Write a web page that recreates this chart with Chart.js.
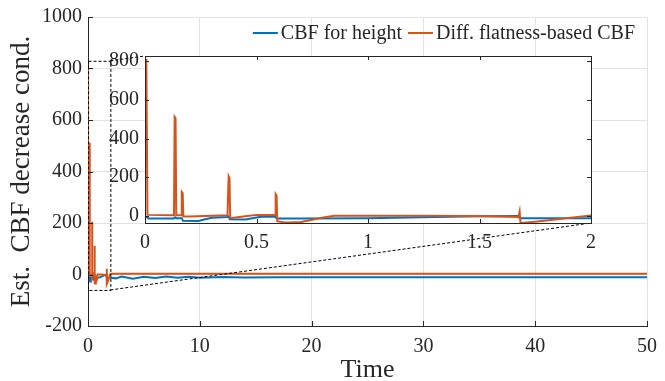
<!DOCTYPE html>
<html lang="en">
<head>
<meta charset="UTF-8">
<title>Est. CBF decrease cond.</title>
<script src="https://cdn.jsdelivr.net/npm/chart.js"></script>
<style>
  html, body { margin: 0; padding: 0; background: #fff; }
  #wrap { position: relative; width: 665px; height: 381px; }
  #mainChart { position: absolute; left: 0; top: 0; }
  #insetChart { position: absolute; left: 95px; top: 45px; }
</style>
</head>
<body>
<div id="wrap">
  <canvas id="mainChart" width="665" height="381"></canvas>
  <canvas id="insetChart" width="510" height="215"></canvas>
</div>
<script>
// CBF for height (blue)
const heightTime = [0, 0.01, 0.015, 0.13, 0.135, 0.14, 0.165, 0.17, 0.24, 0.27, 0.3, 0.37, 0.375, 0.38, 0.45, 0.5, 0.52, 0.585,
  0.59, 0.7, 1.0, 1.3, 1.5, 1.675, 1.68, 2.0, 2.5, 3, 4, 5, 6, 7, 8, 9, 10, 12, 14, 17, 50];
const heightVal = [-5, -8, -14, -14, -8, -12, -12, -26, -27, -18, -10, -6, -3, -18, -19, -9, -5, -4,
  -14, -14, -12, -6, -2, -1, -13, -13, -15, -8, -16, -9, -14, -8, -13, -9, -13, -10, -12, -11, -11];

// Diff. flatness-based CBF (orange)
const flatTime = [0, 0.006, 0.011, 0.13, 0.133, 0.137, 0.14, 0.162, 0.165, 0.169, 0.172, 0.2, 0.37, 0.372, 0.375, 0.379, 0.382,
  0.45, 0.5, 0.583, 0.586, 0.59, 0.593, 0.62, 0.65, 0.7, 0.75, 0.8, 0.85, 1.2, 1.45, 1.6, 1.675, 1.68, 1.684,
  1.75, 1.85, 1.95, 2.0, 2.05, 50];
const flatVal = [800, 805, 5, 3, 512, 505, 3, 3, 124, 118, -3, -4, 3, 3, 205, 195, -12,
  -2, 5, 5, 112, 105, -28, -33, -35, -32, -20, -8, 0, 0, -1, -4, -6, 22, -37,
  -30, -17, -4, 2, 3, 3];

const seriesNames = ['CBF for height', 'Diff. flatness-based CBF'];
const mainXTicks = [0, 10, 20, 30, 40, 50];
const mainYTicks = [-200, 0, 200, 400, 600, 800, 1000];
const insetXTicks = [0, 0.5, 1, 1.5, 2];
const insetYTicks = [0, 200, 400, 600, 800];
const insetYRange = [-37, 827];
const zoomTime = [0, 2];
const zoomVal = [-60, 830];

const BLUE = '#0072BD';
const ORANGE = '#D95319';
const AXIS = '#262626';
const GRID = '#e3e3e3';
const FONT = '"Liberation Serif", "DejaVu Serif", serif';

function toPoints(t, v) {
  return t.map((x, i) => ({ x: x, y: v[i] }));
}

function makeDatasets(width) {
  return [
    { label: seriesNames[0], data: toPoints(heightTime, heightVal), borderColor: BLUE, borderWidth: width,
      pointRadius: 0, tension: 0, order: 2 },
    { label: seriesNames[1], data: toPoints(flatTime, flatVal), borderColor: ORANGE, borderWidth: width,
      pointRadius: 0, tension: 0, order: 1 }
  ];
}

function fixedTicks(list) {
  return function(scale) { scale.ticks = list.map(v => ({ value: v })); };
}
const plainLabel = v => String(v);

// MATLAB style ticks pointing into the plot
function drawInnerTicks(chart, xs, ys, len, allSides) {
  const { ctx, chartArea: a, scales } = chart;
  ctx.save();
  ctx.strokeStyle = AXIS;
  ctx.lineWidth = 1;
  ctx.beginPath();
  xs.forEach(v => {
    const px = Math.round(scales.x.getPixelForValue(v)) + 0.5;
    ctx.moveTo(px, a.bottom); ctx.lineTo(px, a.bottom - len);
    if (allSides) { ctx.moveTo(px, a.top); ctx.lineTo(px, a.top + len); }
  });
  ys.forEach(v => {
    const py = Math.round(scales.y.getPixelForValue(v)) + 0.5;
    ctx.moveTo(a.left, py); ctx.lineTo(a.left + len, py);
    if (allSides) { ctx.moveTo(a.right, py); ctx.lineTo(a.right - len, py); }
  });
  ctx.stroke();
  ctx.restore();
}

function fitX(h) {
  return s => { s.height = h; s.paddingLeft = 0; s.paddingRight = 0; };
}
function fitY(w) {
  return s => { s.width = w; s.paddingTop = 0; s.paddingBottom = 0; };
}

const insetLeft = 95, insetTop = 45;
let insetChart;

const insetPlugin = {
  id: 'insetFrame',
  beforeDraw(chart) {
    const { ctx, chartArea: a } = chart;
    ctx.save();
    ctx.fillStyle = '#fff';
    ctx.fillRect(a.left, a.top, a.right - a.left, a.bottom - a.top);
    ctx.restore();
  },
  afterDraw(chart) {
    const { ctx, chartArea: a } = chart;
    drawInnerTicks(chart, insetXTicks, insetYTicks, 4, true);
    ctx.save();
    ctx.strokeStyle = AXIS;
    ctx.lineWidth = 1;
    ctx.strokeRect(Math.round(a.left) + 0.5, Math.round(a.top) + 0.5,
      Math.round(a.right - a.left), Math.round(a.bottom - a.top));
    ctx.restore();
  }
};

insetChart = new Chart(document.getElementById('insetChart'), {
  type: 'line',
  data: { datasets: makeDatasets(2) },
  options: {
    responsive: false,
    animation: false,
    layout: { padding: { top: 11, right: 14, left: 0, bottom: 0 } },
    plugins: { legend: { display: false }, tooltip: { enabled: false } },
    scales: {
      x: {
        type: 'linear', min: zoomTime[0], max: zoomTime[1],
        afterBuildTicks: fixedTicks(insetXTicks),
        afterFit: fitX(37),
        grid: { display: false, drawTicks: false },
        border: { display: false },
        ticks: { color: AXIS, font: { family: FONT, size: 20 }, padding: 8, maxRotation: 0, callback: plainLabel }
      },
      y: {
        type: 'linear', min: insetYRange[0], max: insetYRange[1],
        afterBuildTicks: fixedTicks(insetYTicks),
        afterFit: fitY(50),
        grid: { display: false, drawTicks: false },
        border: { display: false },
        ticks: { color: AXIS, font: { family: FONT, size: 20 }, padding: 6, callback: plainLabel }
      }
    }
  },
  plugins: [insetPlugin]
});

const mainPlugin = {
  id: 'mainExtras',
  afterDatasetsDraw(chart) {
    const { ctx, chartArea: a, scales } = chart;
    drawInnerTicks(chart, mainXTicks, mainYTicks, 5, false);

    // zoom box and connectors to the inset
    const x0 = scales.x.getPixelForValue(zoomTime[0]);
    const x1 = scales.x.getPixelForValue(zoomTime[1]);
    const yTop = scales.y.getPixelForValue(zoomVal[1]);
    const yBot = scales.y.getPixelForValue(zoomVal[0]);
    const ia = insetChart.chartArea;
    ctx.save();
    ctx.strokeStyle = '#000';
    ctx.lineWidth = 1;
    ctx.setLineDash([3, 2]);
    ctx.beginPath();
    ctx.rect(x0 + 0.5, yTop + 0.5, x1 - x0, yBot - yTop);
    ctx.moveTo(x1, yTop); ctx.lineTo(insetLeft + ia.left, insetTop + ia.top);
    ctx.moveTo(x1, yBot); ctx.lineTo(insetLeft + ia.right, insetTop + ia.bottom);
    ctx.stroke();
    ctx.restore();

    // legend, right aligned inside the axes
    ctx.save();
    ctx.font = '20px ' + FONT;
    ctx.textBaseline = 'middle';
    const colors = [BLUE, ORANGE];
    const lineLen = 25, gap = 3, itemGap = 6;
    const widths = seriesNames.map(n => ctx.measureText(n).width);
    let total = 0;
    widths.forEach((w, i) => { total += lineLen + gap + w + (i ? 0 : itemGap); });
    let x = a.right - 12 - total;
    const y = a.top + 16;
    seriesNames.forEach((n, i) => {
      ctx.strokeStyle = colors[i];
      ctx.lineWidth = 2;
      ctx.beginPath();
      ctx.moveTo(x, y); ctx.lineTo(x + lineLen, y);
      ctx.stroke();
      ctx.fillStyle = AXIS;
      ctx.fillText(n, x + lineLen + gap, y + 1);
      x += lineLen + gap + widths[i] + itemGap;
    });
    ctx.restore();
  }
};

new Chart(document.getElementById('mainChart'), {
  type: 'line',
  data: { datasets: makeDatasets(2) },
  options: {
    responsive: false,
    animation: false,
    layout: { padding: { top: 17, right: 18, left: 0, bottom: 0 } },
    plugins: { legend: { display: false }, tooltip: { enabled: false } },
    scales: {
      x: {
        type: 'linear', min: 0, max: 50,
        afterBuildTicks: fixedTicks(mainXTicks),
        afterFit: fitX(55),
        grid: { color: GRID, drawTicks: false },
        border: { display: true, color: AXIS, width: 1 },
        ticks: { color: AXIS, font: { family: FONT, size: 20 }, padding: 9, maxRotation: 0, callback: plainLabel },
        title: { display: true, text: 'Time', color: AXIS, font: { family: FONT, size: 26, lineHeight: 0.8 },
          padding: { top: 0, bottom: 0 } }
      },
      y: {
        type: 'linear', min: -200, max: 1000,
        afterBuildTicks: fixedTicks(mainYTicks),
        afterFit: fitY(88),
        grid: { color: GRID, drawTicks: false },
        border: { display: true, color: AXIS, width: 1 },
        ticks: { color: AXIS, font: { family: FONT, size: 20 }, padding: 6, callback: plainLabel },
        title: { display: true, text: 'Est.  CBF decrease cond.', color: AXIS,
          font: { family: FONT, size: 27, lineHeight: 1.2 }, padding: { top: 6, bottom: 0 } }
      }
    }
  },
  plugins: [mainPlugin]
});
</script>
</body>
</html>
